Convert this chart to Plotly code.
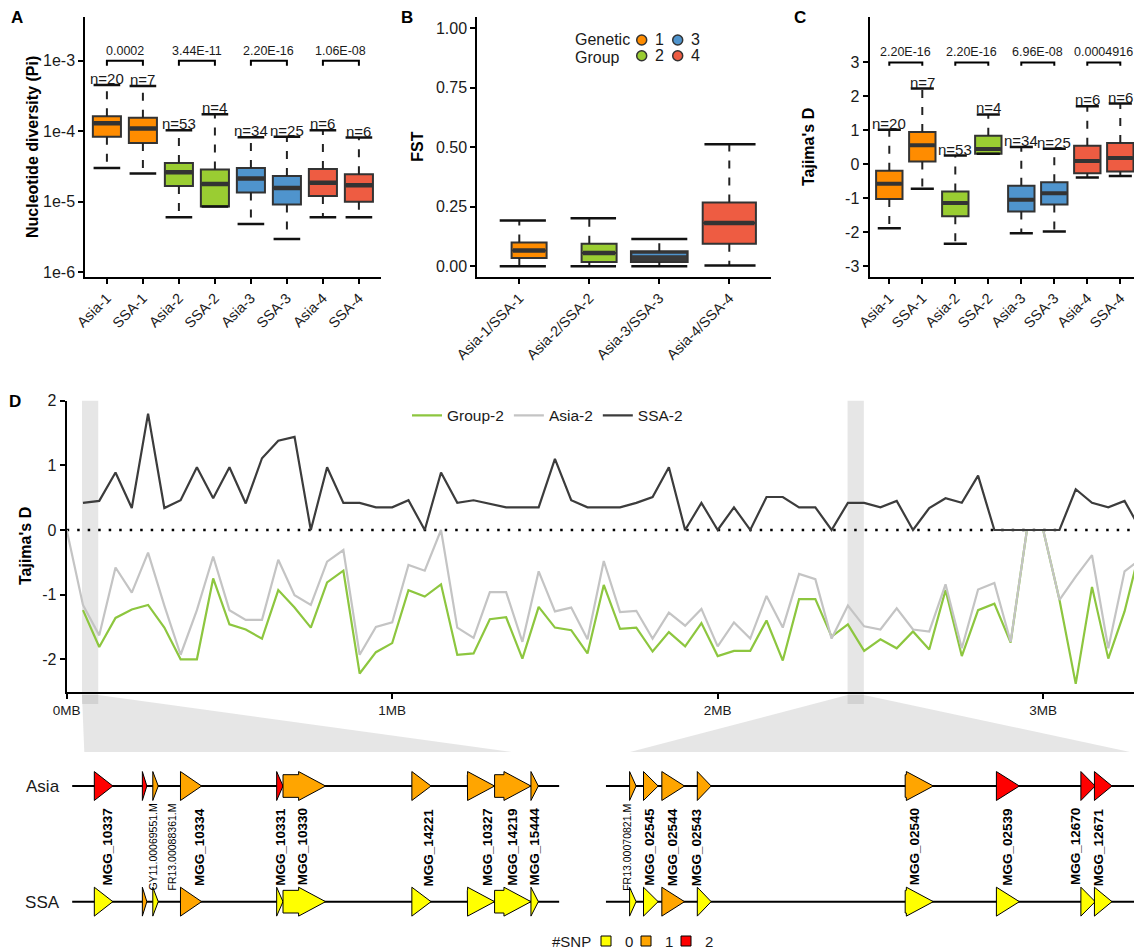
import math
import plotly.graph_objects as go

W, H = 1134, 951
FONT = "Liberation Sans, Arial, Helvetica, sans-serif"
TXT = "#1a1a1a"

# ------------------------------------------------------------------ data
groups = ["Asia-1", "SSA-1", "Asia-2", "SSA-2", "Asia-3", "SSA-3", "Asia-4", "SSA-4"]
group_id = [1, 1, 2, 2, 3, 3, 4, 4]
n_samples = [20, 7, 53, 4, 34, 25, 6, 6]

# Panel A: nucleotide diversity (Pi)
pi_q1 = [8.3e-5, 6.8e-5, 1.66e-5, 8.5e-6, 1.34e-5, 9.1e-6, 1.2e-5, 9.9e-6]
pi_med = [1.29e-4, 1.09e-4, 2.6e-5, 1.77e-5, 2.13e-5, 1.56e-5, 1.85e-5, 1.7e-5]
pi_q3 = [1.63e-4, 1.55e-4, 3.54e-5, 2.85e-5, 3.0e-5, 2.3e-5, 2.9e-5, 2.45e-5]
pi_lo = [3.0e-5, 2.5e-5, 6.0e-6, 8.5e-6, 4.8e-6, 2.95e-6, 6.0e-6, 6.0e-6]
pi_hi = [4.5e-4, 4.36e-4, 1.03e-4, 1.73e-4, 8.2e-5, 8.3e-5, 1.03e-4, 8.1e-5]
pi_pvalues = ["0.0002", "3.44E-11", "2.20E-16", "1.06E-08"]

# Panel B: FST
fst_pairs = ["Asia-1/SSA-1", "Asia-2/SSA-2", "Asia-3/SSA-3", "Asia-4/SSA-4"]
fst_q1 = [0.035, 0.018, 0.018, 0.095]
fst_med = [0.066, 0.056, 0.050, 0.182]
fst_q3 = [0.100, 0.095, 0.063, 0.268]
fst_lo = [0.0, 0.0, 0.0, 0.003]
fst_hi = [0.192, 0.202, 0.115, 0.513]

# Panel C: Tajima's D per group
td_q1 = [-1.02, 0.08, -1.53, 0.31, -1.39, -1.18, -0.26, -0.21]
td_med = [-0.57, 0.56, -1.14, 0.45, -1.04, -0.85, 0.10, 0.19]
td_q3 = [-0.19, 0.95, -0.80, 0.84, -0.63, -0.53, 0.55, 0.63]
td_lo = [-1.88, -0.72, -2.34, 0.31, -2.03, -1.98, -0.39, -0.34]
td_hi = [1.02, 2.23, 0.26, 1.47, 0.51, 0.46, 1.71, 1.79]
td_pvalues = ["2.20E-16", "2.20E-16", "6.96E-08", "0.0004916"]

# Panel D: sliding-window Tajima's D (window start, MB)
window_mb = [0.00, 0.05, 0.10, 0.15, 0.20, 0.25, 0.30, 0.35, 0.40, 0.45,
             0.50, 0.55, 0.60, 0.65, 0.70, 0.75, 0.80, 0.85, 0.90, 0.95,
             1.00, 1.05, 1.10, 1.15, 1.20, 1.25, 1.30, 1.35, 1.40, 1.45,
             1.50, 1.55, 1.60, 1.65, 1.70, 1.75, 1.80, 1.85, 1.90, 1.95,
             2.00, 2.05, 2.10, 2.15, 2.20, 2.25, 2.30, 2.35, 2.40, 2.45,
             2.50, 2.55, 2.60, 2.65, 2.70, 2.75, 2.80, 2.85, 2.90, 2.95,
             3.00, 3.05, 3.10, 3.15, 3.20, 3.25, 3.30]
tajd_group2 = [None, -1.24, -1.81, -1.36, -1.23, -1.16, -1.51, -2.00, -2.00, -0.75,
               -1.46, -1.54, -1.68, -0.93, -1.20, -1.51, -0.81, -0.63, -2.22, -1.89,
               -1.75, -0.93, -1.03, -0.84, -1.93, -1.91, -1.38, -1.35, -1.99, -1.19,
               -1.51, -1.55, -1.91, -0.85, -1.53, -1.51, -1.88, -1.58, -1.80, -1.44,
               -1.95, -1.87, -1.87, -1.40, -2.02, -1.07, -1.07, -1.65, -1.46, -1.87,
               -1.69, -1.83, -1.57, -1.85, -0.93, -1.95, -1.24, -1.14, -1.74, 0.00,
               0.00, -1.08, -2.38, -0.88, -1.99, -1.26, -0.25]
tajd_asia2 = [0.00, -1.16, -1.63, -0.58, -0.97, -0.35, -1.17, -1.93, -1.24, -0.41,
              -1.24, -1.39, -1.39, -0.46, -1.01, -1.16, -0.49, -0.31, -1.93, -1.50,
              -1.43, -0.54, -0.63, 0.00, -1.51, -1.67, -0.96, -0.96, -1.73, -0.64,
              -1.26, -1.20, -1.69, -0.48, -1.27, -1.25, -1.68, -1.28, -1.48, -1.22,
              -1.80, -1.43, -1.68, -1.02, -1.51, -0.68, -0.76, -1.68, -1.17, -1.49,
              -1.54, -1.21, -1.54, -1.57, -0.84, -1.83, -0.92, -0.82, -1.73, 0.00,
              0.00, -1.08, -0.72, -0.39, -1.83, -0.64, -0.45]
tajd_ssa2 = [None, 0.42, 0.45, 0.89, 0.34, 1.80, 0.34, 0.46, 0.97, 0.49,
             0.97, 0.41, 1.11, 1.38, 1.44, 0.00, 0.97, 0.42, 0.42, 0.35,
             0.35, 0.46, 0.00, 0.89, 0.42, 0.46, 0.41, 0.35, 0.35, 0.35,
             1.10, 0.46, 0.35, 0.35, 0.35, 0.42, 0.51, 0.97, 0.00, 0.42,
             0.00, 0.35, 0.00, 0.51, 0.51, 0.35, 0.35, 0.00, 0.42, 0.42,
             0.35, 0.45, 0.00, 0.34, 0.49, 0.42, 0.84, 0.00, 0.00, 0.00,
             0.00, 0.00, 0.63, 0.42, 0.35, 0.45, 0.00]
highlight_start_mb = [0.047, 2.399]
highlight_end_mb = [0.097, 2.449]

# Gene tracks (kb from start of each zoomed region)
left_genes = ["MGG_10337", "GY11.00069551.M", "FR13.00088361.M", "MGG_10334", "MGG_10331",
              "MGG_10330", "MGG_14221", "MGG_10327", "MGG_14219", "MGG_15444"]
left_start_kb = [2.28, 7.21, 8.28, 11.12, 20.99, 21.64, 34.86, 40.55, 43.35, 47.08]
left_end_kb = [4.18, 7.67, 8.84, 13.29, 21.64, 26.01, 36.83, 43.35, 47.08, 47.84]
left_snp_asia = [2, 2, 1, 1, 2, 1, 1, 1, 1, 1]
left_snp_ssa = [0, 1, 0, 1, 0, 0, 0, 0, 0, 0]
right_genes = ["FR13.00070821.M", "MGG_02545", "MGG_02544", "MGG_02543", "MGG_02540",
               "MGG_02539", "MGG_12670", "MGG_12671"]
right_start_kb = [2.44, 3.87, 5.75, 9.39, 30.72, 40.08, 48.75, 50.14]
right_end_kb = [3.11, 5.37, 8.08, 10.81, 33.61, 42.44, 50.22, 51.94]
right_snp_asia = [1, 1, 1, 1, 1, 2, 2, 2]
right_snp_ssa = [0, 0, 1, 0, 0, 0, 0, 0]
track_rows = ["SSA", "Asia"]
snp_levels = [0, 1, 2]

# ------------------------------------------------------------------ styles
group_colors = {1: "#FF8C00", 2: "#9ACD32", 3: "#4F94CD", 4: "#EE5C42"}
snp_colors = {0: "#FFFF00", 1: "#FFA500", 2: "#FF0000"}
line_colors = {"Group-2": "#8DC63F", "Asia-2": "#C4C4C4", "SSA-2": "#3C3C3C"}
EDGE = "#333333"
SHADE = "rgba(128,128,128,0.2)"


def X(px):
    return px / W


def Y(py):
    return 1 - py / H


fig = go.Figure()

axis_common = dict(showline=True, linecolor="black", linewidth=2, ticks="outside",
                   ticklen=5, tickwidth=2, tickcolor="black", showgrid=False,
                   zeroline=False, automargin=False,
                   tickfont=dict(family=FONT, size=16, color=TXT))


def scatter_lines(xs, ys, xa, ya, color, width, dash=None):
    fig.add_trace(go.Scatter(x=xs, y=ys, mode="lines", xaxis=xa, yaxis=ya,
                             line=dict(color=color, width=width, dash=dash),
                             showlegend=False, hoverinfo="skip"))


def box_panel(xa, ya, q1, med, q3, lo, hi, fills, names, box_w, cap_w,
              box_shift, cap_shift, med_color, med_width, whisk_dash):
    n = len(q1)
    centers = list(range(n))
    wx, wy = [], []
    for i in range(n):
        if hi[i] > q3[i]:
            wx += [centers[i], centers[i], None]
            wy += [q3[i], hi[i], None]
        if lo[i] < q1[i]:
            wx += [centers[i], centers[i], None]
            wy += [q1[i], lo[i], None]
    scatter_lines(wx, wy, xa, ya, "#222222", 2, whisk_dash)
    cx, cy = [], []
    for i in range(n):
        c = centers[i] + cap_shift[i]
        for v in (hi[i], lo[i]):
            cx += [c - cap_w[i] / 2, c + cap_w[i] / 2, None]
            cy += [v, v, None]
    scatter_lines(cx, cy, xa, ya, "#111111", 2.5)
    for i in range(n):
        c = centers[i] + box_shift[i]
        fig.add_trace(go.Box(x=[c], q1=[q1[i]], median=[med[i]], q3=[q3[i]],
                             lowerfence=[q1[i]], upperfence=[q3[i]], width=box_w[i],
                             fillcolor=fills[i], line=dict(color=EDGE, width=2),
                             whiskerwidth=0, name=names[i], xaxis=xa, yaxis=ya,
                             showlegend=False, hoverinfo="skip", boxpoints=False))
    for i in range(n):
        c = centers[i] + box_shift[i]
        scatter_lines([c - box_w[i] / 2 + 0.02, c + box_w[i] / 2 - 0.02], [med[i], med[i]],
                      xa, ya, med_color[i], med_width[i])


fills8 = [group_colors[g] for g in group_id]

# ---- Panel A
box_panel("x", "y", pi_q1, pi_med, pi_q3, pi_lo, pi_hi, fills8, groups,
          [0.78] * 8, [0.74] * 8, [0] * 8, [0] * 8, [EDGE] * 8, [4.5] * 8, "8px,9px")
bx, by = [], []
for j in range(4):
    a, b = 2 * j, 2 * j + 1
    bx += [a, a, b, b, None]
    by += [10 ** -3.072, 1e-3, 1e-3, 10 ** -3.072, None]
scatter_lines(bx, by, "x", "y", "black", 2)

# ---- Panel B
fills4 = [group_colors[1], group_colors[2], "#3a3a3a", group_colors[4]]
box_panel("x2", "y2", fst_q1, fst_med, fst_q3, fst_lo, fst_hi, fills4, fst_pairs,
          [0.5, 0.5, 0.81, 0.76], [0.66, 0.65, 0.8, 0.73], [0.14, 0.14, 0.0, 0.0],
          [0.05, 0.057, 0.0, 0.01], [EDGE, EDGE, group_colors[3], EDGE],
          [4.5, 4.5, 1.5, 4.5], "8px,9px")

# ---- Panel C
box_panel("x3", "y3", td_q1, td_med, td_q3, td_lo, td_hi, fills8, groups,
          [0.8] * 8, [0.7] * 8, [0] * 8, [0] * 8, [EDGE] * 8, [4] * 8, "8px,9px")
bx, by = [], []
for j in range(4):
    a, b = 2 * j, 2 * j + 1
    bx += [a, a, b, b, None]
    by += [2.9, 3, 3, 2.9, None]
scatter_lines(bx, by, "x3", "y3", "black", 2)

# ---- Panel D
D_XR = [0, 3.279]
scatter_lines([D_XR[0], D_XR[1]], [0, 0], "x4", "y4", "black", 2.5, "2.5px,8px")
for name, vals in (("Group-2", tajd_group2), ("Asia-2", tajd_asia2), ("SSA-2", tajd_ssa2)):
    fig.add_trace(go.Scatter(x=window_mb, y=vals, mode="lines", name=name,
                             line=dict(color=line_colors[name], width=2.2),
                             xaxis="x4", yaxis="y4", connectgaps=False, hoverinfo="skip"))

# ---- Gene tracks
HEAD_KB = 2.77
HH, BH = 0.125, 0.098


def arrow(start, end, y):
    if end - start <= HEAD_KB:
        return [start, end, start, start], [y + HH, y, y - HH, y + HH]
    hb = end - HEAD_KB
    return ([start, hb, hb, end, hb, hb, start, start],
            [y + BH, y + BH, y + HH, y, y - HH, y - BH, y - BH, y + BH])


def gene_track(xa, ya, starts, ends, snp_asia, snp_ssa, track_end):
    for row_y in (0, 1):
        scatter_lines([0, track_end], [row_y, row_y], xa, ya, "black", 2)
    for i in range(len(starts)):
        for row_y, snp in ((1, snp_asia[i]), (0, snp_ssa[i])):
            xs, ys = arrow(starts[i], ends[i], row_y)
            fig.add_trace(go.Scatter(x=xs, y=ys, mode="lines", fill="toself",
                                     fillcolor=snp_colors[snp],
                                     line=dict(color="black", width=1),
                                     xaxis=xa, yaxis=ya, showlegend=False, hoverinfo="skip"))


gene_track("x5", "y5", left_start_kb, left_end_kb, left_snp_asia, left_snp_ssa, 50)
gene_track("x6", "y6", right_start_kb, right_end_kb, right_snp_asia, right_snp_ssa, 70)

annotations = []
label_nudge = {"MGG_10337": 4, "GY11.00069551.M": 8, "FR13.00088361.M": 16, "MGG_10334": 9,
               "MGG_10331": 1, "MGG_10330": -1, "MGG_14221": 8, "MGG_10327": 7,
               "FR13.00070821.M": -6, "MGG_02545": -1, "MGG_02543": -7, "MGG_02540": -4,
               "MGG_12670": -12, "MGG_12671": -4}
for xa, names, starts, ends in (("x5", left_genes, left_start_kb, left_end_kb),
                                ("x6", right_genes, right_start_kb, right_end_kb)):
    for nm, s, e in zip(names, starts, ends):
        bold = nm.startswith("MGG")
        annotations.append(dict(x=(s + e) / 2, y=0.473, xref=xa, yref="y5", text=nm,
                                showarrow=False, textangle=-90, xanchor="center",
                                yanchor="middle", xshift=label_nudge.get(nm, 0),
                                font=dict(family=FONT, size=13.5 if bold else 10.5,
                                          color="black",
                                          weight="bold" if bold else "normal")))

# ---- text annotations for panels A and C
for i in range(8):
    annotations.append(dict(x=i, y=math.log10(pi_hi[i]), xref="x", yref="y",
                            text=f"n={n_samples[i]}", showarrow=False, yanchor="bottom",
                            yshift=-4, font=dict(family=FONT, size=15, color=TXT)))
    annotations.append(dict(x=i, y=td_hi[i], xref="x3", yref="y3",
                            text=f"n={n_samples[i]}", showarrow=False, yanchor="bottom",
                            yshift=-4, font=dict(family=FONT, size=15, color=TXT)))
for j in range(4):
    annotations.append(dict(x=2 * j + 0.5, y=-3, xref="x", yref="y", text=pi_pvalues[j],
                            showarrow=False, yanchor="bottom", yshift=1,
                            font=dict(family=FONT, size=12.5, color=TXT)))
    annotations.append(dict(x=2 * j + 0.5, y=3, xref="x3", yref="y3", text=td_pvalues[j],
                            showarrow=False, yanchor="bottom", yshift=1,
                            font=dict(family=FONT, size=12.5, color=TXT)))

# panel tags and axis titles
for tag, px, py in (("A", 16.7, 17.7), ("B", 406.7, 17.5), ("C", 800, 17.5), ("D", 15, 401.7)):
    annotations.append(dict(x=X(px), y=Y(py), xref="paper", yref="paper", text=tag,
                            showarrow=False, xanchor="center", yanchor="middle",
                            font=dict(family=FONT, size=17, color="black", weight="bold")))
for txt, px, py in (("Nucleotide diversity (Pi)", 32, 147), ("FST", 416.7, 147),
                    ("Tajima's D", 808, 147), ("Tajima's D", 25, 546)):
    annotations.append(dict(x=X(px), y=Y(py), xref="paper", yref="paper", text=txt,
                            showarrow=False, textangle=-90, xanchor="center", yanchor="middle",
                            font=dict(family=FONT, size=16, color="black", weight="bold")))

# ---- custom legend: Genetic Group (panel B)
shapes = []
annotations.append(dict(x=X(573), y=Y(40), xref="paper", yref="paper", text="Genetic",
                        showarrow=False, xanchor="left", yanchor="middle",
                        font=dict(family=FONT, size=16, color=TXT)))
annotations.append(dict(x=X(573), y=Y(57.3), xref="paper", yref="paper", text="Group",
                        showarrow=False, xanchor="left", yanchor="middle",
                        font=dict(family=FONT, size=16, color=TXT)))
for g, cx, cy in ((1, 641.7, 40), (2, 641.7, 55.7), (3, 677.7, 40), (4, 677.7, 55.7)):
    shapes.append(dict(type="circle", xref="paper", yref="paper", x0=X(cx - 5), x1=X(cx + 5),
                       y0=Y(cy + 5), y1=Y(cy - 5), fillcolor=group_colors[g],
                       line=dict(color=EDGE, width=1.5)))
    annotations.append(dict(x=X(cx + 17.5), y=Y(cy), xref="paper", yref="paper", text=str(g),
                            showarrow=False, xanchor="center", yanchor="middle",
                            font=dict(family=FONT, size=16, color=TXT)))

# ---- custom legend: #SNP
annotations.append(dict(x=X(593), y=Y(941), xref="paper", yref="paper", text="#SNP",
                        showarrow=False, xanchor="right", yanchor="middle",
                        font=dict(family=FONT, size=15, color=TXT)))
for lvl, cx in zip(snp_levels, (606, 646, 686)):
    shapes.append(dict(type="rect", xref="paper", yref="paper", x0=X(cx - 5), x1=X(cx + 5),
                       y0=Y(946), y1=Y(936), fillcolor=snp_colors[lvl],
                       line=dict(color="black", width=1)))
    annotations.append(dict(x=X(cx + 23), y=Y(941), xref="paper", yref="paper", text=str(lvl),
                            showarrow=False, xanchor="center", yanchor="middle",
                            font=dict(family=FONT, size=15, color=TXT)))

# ---- highlighted windows + connectors
D_X0, D_X1 = 66.7, 1134.0


def d_px(mb):
    return D_X0 + (mb - D_XR[0]) / (D_XR[1] - D_XR[0]) * (D_X1 - D_X0)


for s, e in zip(highlight_start_mb, highlight_end_mb):
    shapes.append(dict(type="rect", xref="x4", yref="paper", x0=s, x1=e, y0=Y(704), y1=Y(400.7),
                       fillcolor=SHADE, line=dict(width=0), layer="below"))
bottoms = [(84.3, 511.7), (630.0, 1130.0)]
for (s, e), (b0, b1) in zip(zip(highlight_start_mb, highlight_end_mb), bottoms):
    t0, t1 = d_px(s), d_px(e)
    path = (f"M {X(t0)},{Y(695)} L {X(t1)},{Y(695)} L {X(b1)},{Y(752)} "
            f"L {X(b0)},{Y(752)} Z")
    shapes.append(dict(type="path", xref="paper", yref="paper", path=path,
                       fillcolor=SHADE, line=dict(width=0), layer="below"))

# ------------------------------------------------------------------ layout
TOP, BOT = 16.7, 277.0
tick8 = dict(tickvals=list(range(8)), ticktext=groups, tickangle=-45,
             tickfont=dict(family=FONT, size=14.5, color=TXT))
fig.update_layout(
    template="none",
    width=W, height=H, margin=dict(l=0, r=0, t=0, b=0, autoexpand=False),
    paper_bgcolor="white", plot_bgcolor="white", boxmode="overlay",
    font=dict(family=FONT, color=TXT), hovermode=False,
    xaxis=dict(axis_common, domain=[X(85.3), X(380.5)], range=[-0.6, 7.6], anchor="y", **tick8),
    yaxis=dict(axis_common, domain=[Y(BOT), Y(TOP)], type="log", range=[-6.071, -2.376],
               tickvals=[1e-6, 1e-5, 1e-4, 1e-3], ticktext=["1e-6", "1e-5", "1e-4", "1e-3"],
               anchor="x"),
    xaxis2=dict(axis_common, domain=[X(477.3), X(771.3)], range=[-0.6, 3.6], anchor="y2",
                tickvals=list(range(4)), ticktext=fst_pairs, tickangle=-45,
                tickfont=dict(family=FONT, size=14.5, color=TXT)),
    yaxis2=dict(axis_common, domain=[Y(BOT), Y(TOP)], range=[-0.045, 1.0488], anchor="x2",
                tickvals=[0, 0.25, 0.5, 0.75, 1.0],
                ticktext=["0.00", "0.25", "0.50", "0.75", "1.00"]),
    xaxis3=dict(axis_common, domain=[X(869.5), 1.0], range=[-0.6, 7.415], anchor="y3", **tick8),
    yaxis3=dict(axis_common, domain=[Y(BOT), Y(TOP)], range=[-3.316, 4.345], anchor="x3",
                tickvals=[-3, -2, -1, 0, 1, 2, 3],
                ticktext=["-3", "-2", "-1", "0", "1", "2", "3"]),
    xaxis4=dict(axis_common, domain=[X(D_X0), 1.0], range=D_XR, anchor="y4",
                tickvals=[0, 1, 2, 3], ticktext=["0MB", "1MB", "2MB", "3MB"],
                tickfont=dict(family=FONT, size=13.5, color=TXT)),
    yaxis4=dict(axis_common, domain=[Y(691.6), Y(400.7)], range=[-2.5, 2.0], anchor="x4",
                tickvals=[-2, -1, 0, 1, 2], ticktext=["-2", "-1", "0", "1", "2"]),
    xaxis5=dict(domain=[X(72.1), X(559.4)], range=[0, 50], visible=False, anchor="y5",
                automargin=False),
    yaxis5=dict(domain=[Y(930), Y(760)], range=[-0.245, 1.225], anchor="x5", showline=False,
                showgrid=False, zeroline=False, ticks="", tickvals=[0, 1], ticktext=track_rows,
                automargin=False, ticklabelstandoff=12,
                tickfont=dict(family=FONT, size=17, color=TXT)),
    xaxis6=dict(domain=[X(605.8), 1.0], range=[0, 54.2], visible=False, anchor="y6",
                automargin=False),
    yaxis6=dict(domain=[Y(930), Y(760)], range=[-0.245, 1.225], anchor="x6", visible=False,
                automargin=False),
    showlegend=True,
    legend=dict(orientation="h", x=X(407), y=Y(415.7), xanchor="left", yanchor="middle",
                bgcolor="rgba(0,0,0,0)", itemwidth=30,
                font=dict(family=FONT, size=15.5, color=TXT)),
    annotations=annotations, shapes=shapes,
)

fig.write_html("out.html", config={"displayModeBar": False},
               post_script="document.body.style.margin='0px';document.body.style.overflow='hidden';")
